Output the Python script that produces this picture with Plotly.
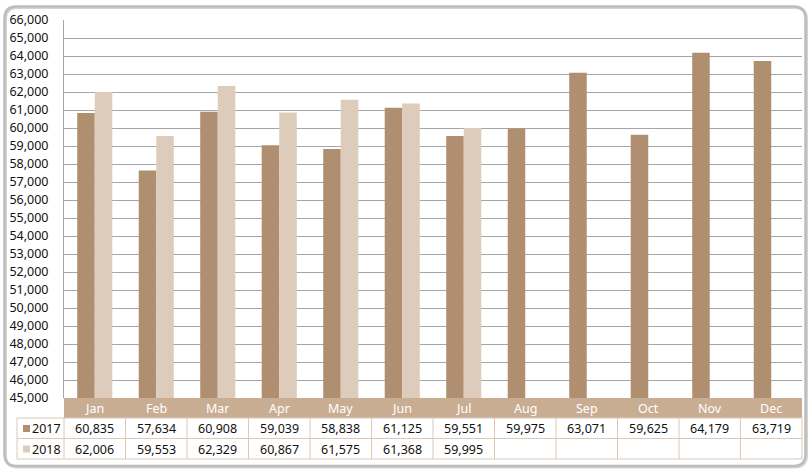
import plotly.graph_objects as go

months = ["Jan", "Feb", "Mar", "Apr", "May", "Jun", "Jul", "Aug", "Sep", "Oct", "Nov", "Dec"]
series_names = ["2017", "2018"]
values_2017 = [60835, 57634, 60908, 59039, 58838, 61125, 59551, 59975, 63071, 59625, 64179, 63719]
values_2018 = [62006, 59553, 62329, 60867, 61575, 61368, 59995, None, None, None, None, None]
y_tick_values = list(range(45000, 66001, 1000))

colors = ["#b08f70", "#ddcbbb"]
header_fill = "#c9ad93"
cell_line = "#dbc8b6"
FONT = "Noto Sans"
FS = 12.5

W_FIG, H_FIG = 812, 473
L, R, T, B = 64, 802, 20, 398
PW, PH = R - L, B - T


def px(x):
    return (x - L) / PW


def py(y):
    return (B - y) / PH


fig = go.Figure()
for name, vals, col in zip(series_names, [values_2017, values_2018], colors):
    fig.add_trace(go.Bar(x=months, y=vals, name=name, marker=dict(color=col, line=dict(width=0)),
                         showlegend=False, hoverinfo="skip"))

shapes = []
annotations = []


def rounded_path(x0, y0, x1, y1, r):
    def P(x, y):
        return f"{px(x):.5f},{py(y):.5f}"
    return (f"M {P(x0+r, y0)} L {P(x1-r, y0)} Q {P(x1, y0)} {P(x1, y0+r)} "
            f"L {P(x1, y1-r)} Q {P(x1, y1)} {P(x1-r, y1)} L {P(x0+r, y1)} "
            f"Q {P(x0, y1)} {P(x0, y1-r)} L {P(x0, y0+r)} Q {P(x0, y0)} {P(x0+r, y0)} Z")


shapes.append(dict(type="path", xref="paper", yref="paper", path=rounded_path(5.5, 7.5, 806.5, 467, 12),
                   line=dict(color="#d4d4d4", width=3), layer="below"))
shapes.append(dict(type="path", xref="paper", yref="paper", path=rounded_path(4.5, 6.5, 805.5, 466, 12),
                   line=dict(color="#bdbdbd", width=2.5), layer="below"))

# header band
shapes.append(dict(type="rect", xref="paper", yref="paper", x0=0, x1=1, y0=py(418), y1=py(398),
                   fillcolor=header_fill, line=dict(width=0), layer="below"))

# table lines
row_y = [418, 438.5, 459]
for yy in row_y:
    shapes.append(dict(type="line", xref="paper", yref="paper", x0=px(17), x1=1, y0=py(yy), y1=py(yy),
                       line=dict(color=cell_line, width=1)))
for xx in [px(17)] + [k / 12 for k in range(13)]:
    shapes.append(dict(type="line", xref="paper", yref="paper", x0=xx, x1=xx, y0=py(418), y1=py(459),
                       line=dict(color=cell_line, width=1)))

# header month labels
for m in months:
    annotations.append(dict(x=m, xref="x", y=py(408), yref="paper", text=m, showarrow=False,
                            xanchor="center", yanchor="middle",
                            font=dict(family=FONT, size=FS, color="white")))


def fmt(v):
    return "" if v is None else f"{v:,}"


for vals, yc in [(values_2017, 428.5), (values_2018, 449)]:
    for m, v in zip(months, vals):
        if v is None:
            continue
        annotations.append(dict(x=m, xref="x", y=py(yc), yref="paper", text=fmt(v), showarrow=False,
                                xanchor="center", yanchor="middle",
                                font=dict(family=FONT, size=FS, color="#111111")))

for name, col, yc in zip(series_names, colors, [428.5, 449]):
    shapes.append(dict(type="rect", xref="paper", yref="paper", x0=px(23), x1=px(30),
                       y0=py(yc + 3.5), y1=py(yc - 3.5), fillcolor=col, line=dict(width=0)))
    annotations.append(dict(x=px(30), xref="paper", y=py(yc), yref="paper", text=name, showarrow=False,
                            xanchor="left", yanchor="middle",
                            font=dict(family=FONT, size=FS, color="#111111")))

fig.update_layout(
    width=W_FIG, height=H_FIG, autosize=False,
    margin=dict(l=L, r=W_FIG - R, t=T, b=H_FIG - B, pad=0),
    paper_bgcolor="white", plot_bgcolor="white",
    barmode="group", bargap=0.43, bargroupgap=0,
    shapes=shapes, annotations=annotations,
    xaxis=dict(range=[-0.5, 11.5], showticklabels=False, showgrid=False, zeroline=False,
               showline=False, ticks=""),
    yaxis=dict(range=[45000, 66000], tickvals=y_tick_values, tickformat=",d",
               showgrid=True, gridcolor="#a6a6a6", gridwidth=1, zeroline=False,
               showline=True, linecolor="#a6a6a6", linewidth=1, ticks="",
               ticklabelstandoff=12,
               tickfont=dict(family=FONT, size=FS, color="#111111")),
)

fig.write_html("out.html", config={"displayModeBar": False},
               post_script="document.body.style.margin='0';document.body.style.padding='0';")
